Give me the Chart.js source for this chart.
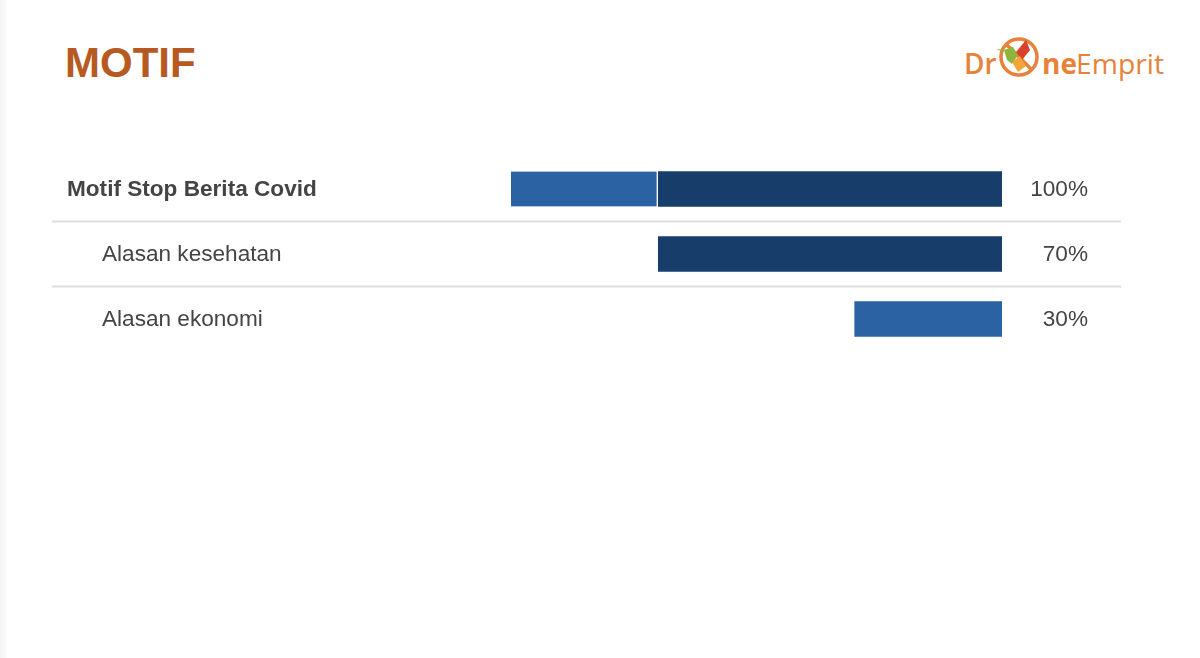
<!DOCTYPE html>
<html>
<head>
<meta charset="utf-8">
<script src="https://cdn.jsdelivr.net/npm/chart.js@4"></script>
<style>
  html, body { margin: 0; padding: 0; background: #fff; }
  body { width: 1200px; height: 658px; position: relative; overflow: hidden; }
  #tepi { position: absolute; left: 0; top: 0; width: 7px; height: 658px; background: linear-gradient(to right, #f3f3f3, #fcfcfc); }
  #judul {
    position: absolute; left: 65px; top: 39px;
    font: bold 42px "Liberation Sans", Arial, sans-serif;
    color: #b65a22;
  }
  #logo { position: absolute; left: 950px; top: 30px; }
  #grafik { position: absolute; left: 0; top: 0; }
</style>
</head>
<body>
<div id="tepi"></div>
<div id="judul">MOTIF</div>
<svg id="logo" width="230" height="70" viewBox="950 30 230 70">
  <text x="964" y="74" font-family="'Open Sans', sans-serif" font-size="28" font-weight="600" fill="#e8823a">Dr</text>
  <circle cx="1019" cy="57" r="18" fill="none" stroke="#e8823a" stroke-width="3.5"/>
  <line x1="1006" y1="44" x2="1032" y2="70" stroke="#e8823a" stroke-width="3.5"/>
  <polygon points="1004,50 1013,47 1018,55 1012,64 1007,60" fill="#8db53c"/>
  <polygon points="1016,52 1026,40 1030,50 1022,60" fill="#d9412b"/>
  <polygon points="1012,62 1020,56 1026,66 1018,72" fill="#f0a63a"/>
  <polygon points="996,49 1004,50 1003,52" fill="#8db53c"/>
  <text x="1042" y="74" font-family="'Open Sans', sans-serif" font-size="28" font-weight="700" fill="#e8823a">ne</text>
  <text x="1076" y="74" font-family="'Open Sans', sans-serif" font-size="28" font-weight="400" fill="#e8823a" textLength="88" lengthAdjust="spacingAndGlyphs">Emprit</text>
</svg>
<canvas id="grafik" width="1200" height="658"></canvas>
<script>
// data
const kategori = ["Motif Stop Berita Covid", "Alasan kesehatan", "Alasan ekonomi"];
const kesehatan = [70, 70, 0];
const ekonomi = [30, 0, 30];
const induk = [true, false, false];

const WARNA_TEKS = "#444444";
const FONT = "22.6px 'Liberation Sans', Arial, sans-serif";

// label kiri, garis pemisah, persen kanan
const pluginTabel = {
  id: "tabel",
  afterDatasetsDraw(chart) {
    const ctx = chart.ctx;
    const y = chart.scales.y;
    ctx.save();
    ctx.textBaseline = "middle";
    kategori.forEach((nama, i) => {
      const py = y.getPixelForValue(i);
      ctx.fillStyle = WARNA_TEKS;
      ctx.textAlign = "left";
      ctx.font = (induk[i] ? "bold " : "") + FONT;
      ctx.fillText(nama, induk[i] ? 67 : 102, py + 1);

      ctx.font = FONT;
      ctx.textAlign = "right";
      const total = kesehatan[i] + ekonomi[i];
      ctx.fillText(total + "%", 1088, py + 1);

      if (i < kategori.length - 1) {
        const garis = (py + y.getPixelForValue(i + 1)) / 2;
        ctx.strokeStyle = "#dddddd";
        ctx.lineWidth = 2;
        ctx.beginPath();
        ctx.moveTo(52, garis);
        ctx.lineTo(1121, garis);
        ctx.stroke();
      }
    });
    ctx.restore();
  },
};

new Chart(document.getElementById("grafik"), {
  type: "bar",
  data: {
    labels: kategori,
    datasets: [
      {
        label: "Alasan kesehatan",
        data: kesehatan,
        backgroundColor: (c) => (c.raw ? "#173d6b" : "rgba(0,0,0,0)"),
        borderWidth: 0,
        barThickness: 35,
      },
      {
        label: "Alasan ekonomi",
        data: ekonomi,
        backgroundColor: (c) => (c.raw ? "#2b62a4" : "rgba(0,0,0,0)"),
        borderColor: "#ffffff",
        borderSkipped: false,
        borderWidth: (c) => (kesehatan[c.dataIndex] > 0 ? { right: 2 } : 0),
        barThickness: 35,
      },
    ],
  },
  options: {
    indexAxis: "y",
    responsive: false,
    animation: false,
    layout: { padding: { left: 511, right: 198, top: 156.5, bottom: 306.5 } },
    plugins: { legend: { display: false }, tooltip: { enabled: false } },
    scales: {
      x: { display: false, stacked: true, reverse: true, min: 0, max: 100 },
      y: { display: false, stacked: true },
    },
  },
  plugins: [pluginTabel],
});
</script>
</body>
</html>
